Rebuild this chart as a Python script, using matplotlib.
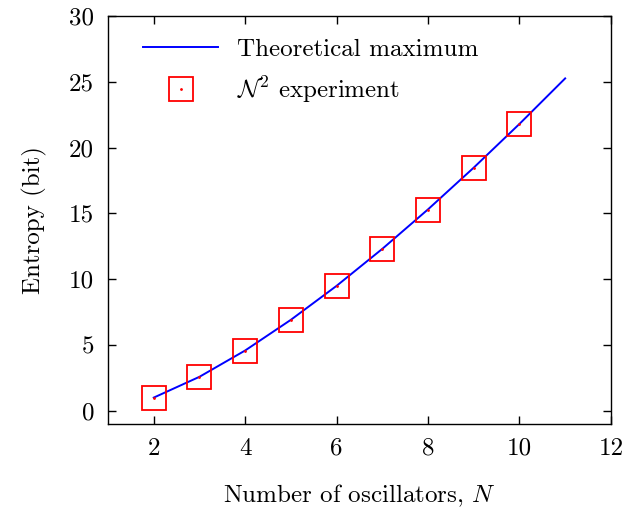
import matplotlib.pyplot as plt
from matplotlib.lines import Line2D

plt.rcParams['font.family'] = ['cmr10', 'DejaVu Serif']
plt.rcParams['mathtext.fontset'] = 'cm'
plt.rcParams['axes.formatter.use_mathtext'] = True

# theoretical maximum (piecewise between integer N)
n_theory = [2, 3, 4, 5, 6, 7, 8, 9, 10, 11]
s_theory = [1.0, 2.58, 4.58, 6.91, 9.49, 12.30, 15.30, 18.47, 21.79, 25.25]

# experiment
n_exp = [2, 3, 4, 5, 6, 7, 8, 9, 10]
s_exp = [1.0, 2.55, 4.55, 6.9, 9.45, 12.3, 15.28, 18.45, 21.75]

fig = plt.figure(figsize=(6.41, 5.12), dpi=100)
ax = fig.add_axes([0.1685, 0.172, 0.7845, 0.797])

ax.plot(n_theory, s_theory, color='blue', lw=1.4, zorder=2)
ax.plot(n_exp, s_exp, ls='none', marker='s', ms=17, mfc='none',
        mec='red', mew=1.3, zorder=3)
ax.plot(n_exp, s_exp, ls='none', marker='.', ms=2, color='red', zorder=4)

ax.set_xlim(1, 12)
ax.set_ylim(-1, 30)
ax.set_xticks([2, 4, 6, 8, 10, 12])
ax.set_yticks([0, 5, 10, 15, 20, 25, 30])
ax.set_xticklabels(['2', '4', '6', '8', '10', '12'])
ax.set_yticklabels(['0', '5', '10', '15', '20', '25', '30'])
ax.tick_params(direction='in', top=True, right=True, length=6, width=1,
               labelsize=18, pad=10)
for sp in ax.spines.values():
    sp.set_linewidth(1)

ax.set_xlabel('Number of oscillators, $N$', fontsize=18, labelpad=16)
ax.set_ylabel('Entropy (bit)', fontsize=18, labelpad=16)

h_line = Line2D([], [], color='blue', lw=1.4)
h_sq = Line2D([], [], ls='none', marker='s', ms=17, mfc='none', mec='red', mew=1.3)
h_dot = Line2D([], [], ls='none', marker='.', ms=2, color='red')
ax.legend([h_line, (h_sq, h_dot)],
          ['Theoretical maximum', r'$\mathcal{N}^2$ experiment'],
          loc='upper left', frameon=False, fontsize=18, handlelength=3.0,
          handletextpad=0.75, labelspacing=0.55, borderaxespad=0.5,
          bbox_to_anchor=(0.025, 1.0))

fig.savefig('out.png', dpi=100)
